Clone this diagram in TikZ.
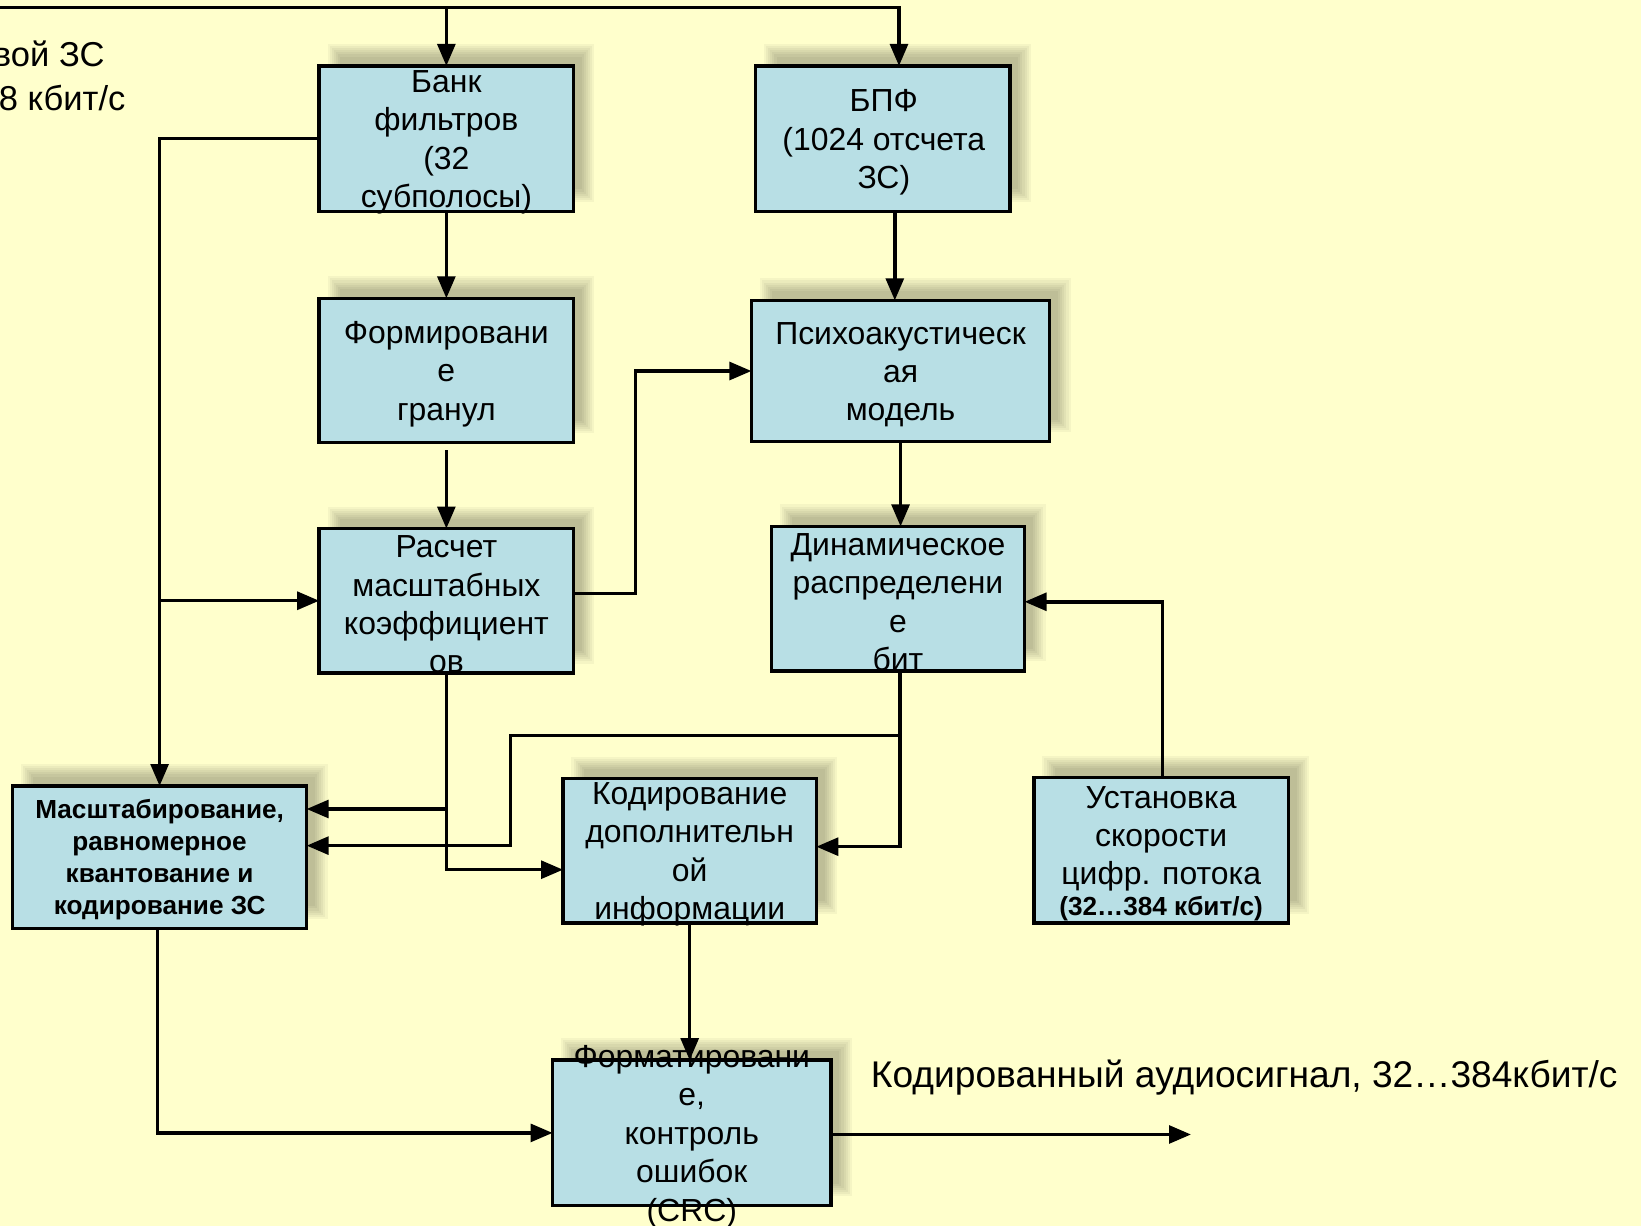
\documentclass[tikz,border=0pt]{standalone}
\usepackage{fontspec}
\setmainfont{Liberation Sans}
\usetikzlibrary{arrows.meta,calc}
\definecolor{bgy}{RGB}{255,255,204}
\definecolor{boxb}{RGB}{184,223,229}
\newcommand\mkbox[5]{%
  \foreach \o in {-6,-4,...,6}{\fill[black,opacity=0.04] ({#2+14-\o},{#3-15-\o}) rectangle ({#4+14+\o},{#5-15+\o});}
  \node[boxst,minimum width={#4-#2},minimum height={#5-#3}] (#1) at ({(#2+#4)/2},{(#3+#5)/2}) {};
}
\begin{document}
\begin{tikzpicture}[x=1pt,y=-1pt,
  boxst/.style={draw,line width=3.3pt,fill=boxb,inner sep=0pt,outer sep=0pt},
  txt/.style={align=center,font=\fontsize{30.5}{36.7}\selectfont,inner sep=0pt},
  btxt/.style={align=center,font=\fontsize{25}{30.6}\selectfont\bfseries,inner sep=0pt},
  arr/.style={line width=3.3pt,-{Triangle[length=21pt,width=17pt]}},
  ln/.style={line width=3.3pt}]
\useasboundingbox (0,0) rectangle (1568,1171);
\clip (0,0) rectangle (1568,1171);
\fill[bgy] (0,0) rectangle (1568,1171);

\mkbox{bank}{305}{63}{548}{202}
\mkbox{fft}{722}{63}{965}{202}
\mkbox{form}{305}{285}{548}{423}
\mkbox{psy}{718}{287}{1003}{422}
\mkbox{calc}{305}{505}{548}{643}
\mkbox{dyn}{737}{503}{979}{641}
\mkbox{scale}{12}{751}{293}{887}
\mkbox{code}{538}{744}{780}{882}
\mkbox{rate}{988}{743}{1231}{882}
\mkbox{fmt}{528}{1013}{794}{1152}

\node[txt] (tbank) at ([yshift=-3.5pt]bank.center) {Банк\\фильтров\\(32\\субполосы)};
\node[txt] (tfft) at ([yshift=-3.5pt,xshift=1pt]fft.center) {БПФ\\(1024 отсчета\\ЗС)};
\node[txt] (tform) at ([yshift=-3.5pt]form.center) {Формировани\\е\\гранул};
\node[txt] (tpsy) at ([yshift=-3.5pt]psy.center) {Психоакустическ\\ая\\модель};
\node[txt] (tcalc) at ([yshift=-3.5pt]calc.center) {Расчет\\масштабных\\коэффициент\\ов};
\node[txt] (tdyn) at ([yshift=-3.5pt]dyn.center) {Динамическое\\распределени\\е\\бит};
\node[btxt] (tscale) at ([yshift=-2pt]scale.center) {Масштабирование,\\равномерное\\квантование и\\кодирование ЗС};
\node[txt] (tcode) at ([yshift=-3.5pt]code.center) {Кодирование\\дополнительн\\ой\\информации};
\node[txt] (trate) at (1109.5,801.5) {Установка\\скорости\\цифр. потока};
\node[btxt] (trate2) at (1109.5,868) {(32…384 кбит/с)};
\node[txt] (tfmt) at ([yshift=-3.5pt]fmt.center) {Форматировани\\е,\\контроль\\ошибок\\(CRC)};

\node[anchor=east,inner sep=0pt,font=\fontsize{33}{38}\selectfont] (lin1) at (100,51) {вой ЗС};
\node[anchor=east,inner sep=0pt,font=\fontsize{33}{38}\selectfont] (lin2) at (120,94) {8 кбит/с};
\node[anchor=west,inner sep=0pt,font=\fontsize{35.5}{40}\selectfont] (lout) at (832,1030) {Кодированный аудиосигнал, 32…384кбит/с};

\coordinate (tl) at (0,7);
\coordinate (out) at (1138,1084);
\coordinate (j1) at (860,703);
\coordinate (s1) at ([yshift=46pt]scale.east);

\draw[arr] (tl) -| ([xshift=15.5pt]fft.north);
\draw[arr] (bank.north |- tl) -- (bank.north);
\draw[arr] (bank.west) -| (scale.north);
\draw[arr] (calc.west -| scale.north) -- (calc.west);
\draw[arr] (bank.south) -- (form.north);
\draw[arr] ([yshift=-7pt]form.south) -- (calc.north);
\draw[arr] ([yshift=7pt]calc.east) -- ++(59,0) |- (psy.west);
\draw[arr] ([xshift=11.5pt]fft.south) -- ([xshift=-5.5pt]psy.north);
\draw[arr] (psy.south) -- (psy.south |- dyn.north);
\draw[arr] ([xshift=2pt]dyn.south) |- ([yshift=4pt]code.east);
\draw[arr] (j1) -| (488,808) -- ([yshift=11pt]scale.east);
\draw[arr] (calc.south) |- ([yshift=-18pt]code.west);
\draw[arr] (calc.south |- s1) -- (s1);
\draw[arr] ([xshift=1.5pt]rate.north) |- ([yshift=-3pt]dyn.east);
\draw[arr] (code.south) -- (code.south |- fmt.north);
\draw[arr] ([xshift=-2pt]scale.south) |- (fmt.west);
\draw[arr] ([yshift=-1.5pt]fmt.east) -- (out);
\end{tikzpicture}
\end{document}
